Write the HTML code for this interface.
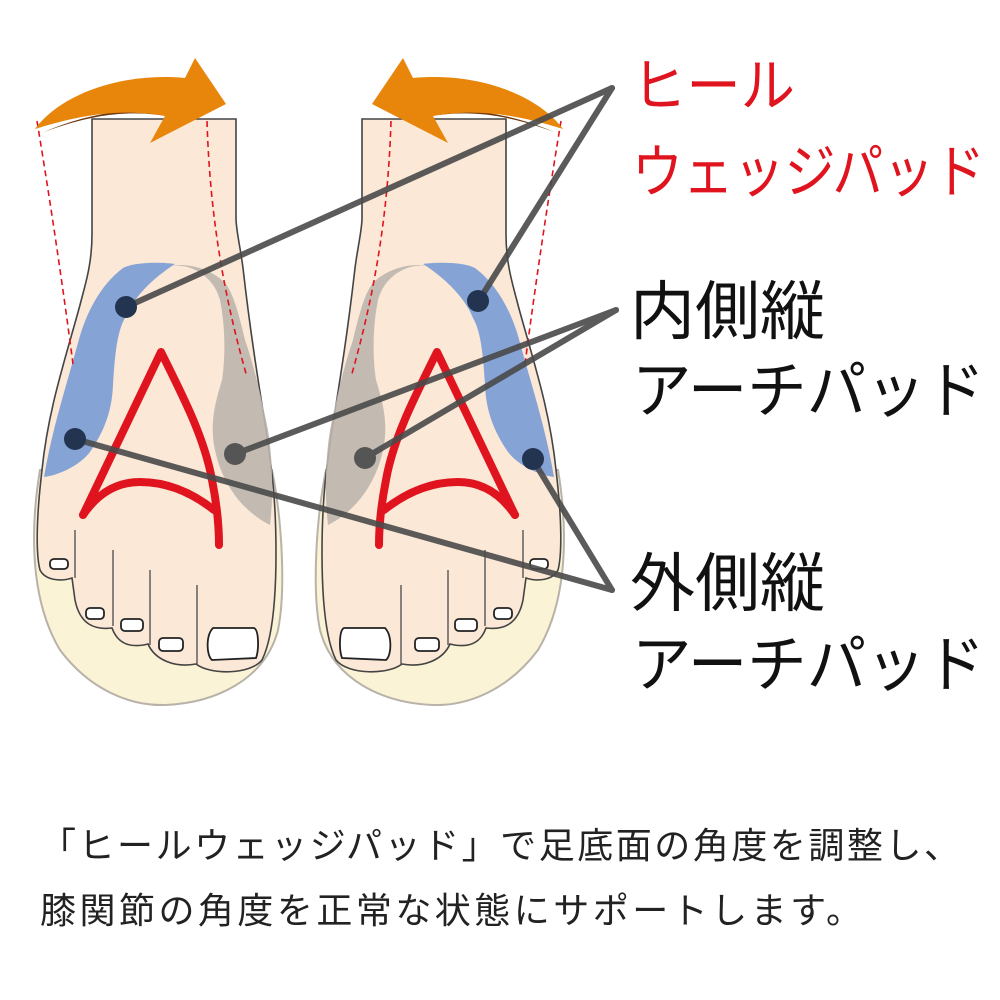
<!DOCTYPE html>
<html><head><meta charset="utf-8"><style>html,body{margin:0;padding:0;background:#fff}svg{display:block}</style></head>
<body>
<svg width="1000" height="1000" viewBox="0 0 1000 1000" xmlns="http://www.w3.org/2000/svg">
<defs>
<g id="foot">
  <path d="M40,470 C30,530 30,600 60,650 C90,690 130,706 165,705 C215,703 265,680 278,630 C286,590 282,520 272,470 Z" fill="#faf3d6" stroke="#b8b2a8" stroke-width="2"/>
  <path d="M92,119 L92,234 C92,265 85,285 80,305 C65,360 48,410 42,470 C36,520 36,555 40,570 C45,580 60,582 72,578 L75,600 C80,625 95,630 112,628 C118,645 132,648 148,644 C155,660 175,668 196,664 C210,675 250,675 262,660 C272,640 276,600 276,553 C276,500 272,470 266,430 C258,380 250,330 243,268 C240,245 236,230 236,218 L236,119 Z" fill="#fbe8d6" stroke="#444" stroke-width="1.6"/>
  <path d="M175,264 C160,262 135,262 123,268 C100,285 85,315 78,343 C65,390 52,430 44,477 C60,475 80,465 90,452 C105,430 112,410 113,385 C115,350 118,330 125,318 C132,300 150,280 175,264 Z" fill="#7f9fd6" opacity="0.95"/>
  <path d="M168,266 C195,262 215,280 220,300 C226,330 225,360 222,380 C216,400 210,420 214,445 C220,480 240,510 270,525 C274,490 272,455 268,430 C260,390 252,360 245,340 C238,310 232,290 224,282 C212,270 190,262 168,266 Z" fill="#bcb6ae" opacity="0.9"/>
  <path d="M83,515 L161,352 C185,400 205,440 212,480 C216,500 219,520 219,545" fill="none" stroke="#e0141e" stroke-width="8" stroke-linecap="round" stroke-linejoin="round"/>
  <path d="M83,515 C100,490 120,482 140,482 C170,482 195,495 214,510" fill="none" stroke="#e0141e" stroke-width="8" stroke-linecap="round"/>
  <g fill="none" stroke="#555" stroke-width="1.4">
    <path d="M75,530 L75,578"/><path d="M113,550 L113,626"/><path d="M150,570 L150,645"/><path d="M197,585 L197,664"/>
  </g>
  <g fill="#fff" stroke="#222" stroke-width="1.8">
    <rect x="50" y="559" width="18" height="10" rx="4"/>
    <rect x="86" y="608" width="18" height="11" rx="4"/>
    <rect x="121" y="619" width="22" height="12" rx="4"/>
    <rect x="159" y="638" width="24" height="13" rx="4"/>
    <path d="M213,628 L254,628 C259,630 259,650 256,658 L212,660 C206,655 206,635 213,628 Z"/>
  </g>
  <g fill="none" stroke="#e0141e" stroke-width="1.6" stroke-dasharray="6,4">
    <path d="M37,121 C50,200 62,280 73,364"/>
    <path d="M207,121 C210,220 225,300 247,377"/>
  </g>
  <path d="M44,132 C90,112 140,106 172,113 L158,138 L212,110 L176,118 C130,108 90,115 44,132 Z" fill="#6b3a10"/>
  <path d="M35,129 C60,95 120,72 185,78 L195,58 L226,104 L150,143 L165,116 C120,108 80,115 35,129 Z" fill="#e8860c"/>
</g>
</defs>
<use href="#foot"/>
<use href="#foot" transform="translate(598,0) scale(-1,1)"/>
<g stroke="#4a4a4a" stroke-width="6" stroke-linecap="round" opacity="0.9" fill="none">
  <path d="M612,88 L126,307"/><path d="M612,88 L478,302"/>
  <path d="M616,310 L235,454"/><path d="M616,310 L365,458"/>
  <path d="M612,590 L75,439"/><path d="M612,590 L533,460"/>
</g>
<g fill="#233450">
  <circle cx="126" cy="307" r="11"/><circle cx="75" cy="439" r="11"/>
  <circle cx="478" cy="301" r="11"/><circle cx="533" cy="459" r="11"/>
</g>
<g fill="#555">
  <circle cx="235" cy="454" r="11"/><circle cx="365" cy="458" r="11"/>
</g>
<g font-family="'Liberation Sans','Noto Sans CJK JP',sans-serif">
  <text x="632" y="106" font-size="58" fill="#e0141e" textLength="163" lengthAdjust="spacingAndGlyphs">ヒール</text>
  <text x="632" y="192" font-size="58" fill="#e0141e" textLength="353" lengthAdjust="spacingAndGlyphs">ウェッジパッド</text>
  <text x="630" y="334" font-size="64" fill="#111" textLength="195" lengthAdjust="spacingAndGlyphs">内側縦</text>
  <text x="632" y="412" font-size="62" fill="#111" textLength="353" lengthAdjust="spacingAndGlyphs">アーチパッド</text>
  <text x="630" y="606" font-size="64" fill="#111" textLength="195" lengthAdjust="spacingAndGlyphs">外側縦</text>
  <text x="632" y="686" font-size="62" fill="#111" textLength="353" lengthAdjust="spacingAndGlyphs">アーチパッド</text>
  <text x="40" y="858" font-size="36" fill="#222" textLength="920" lengthAdjust="spacing">「ヒールウェッジパッド」で足底面の角度を調整し、</text>
  <text x="40" y="923" font-size="36" fill="#222" textLength="822" lengthAdjust="spacing">膝関節の角度を正常な状態にサポートします。</text>
</g>
</svg>
</body></html>
